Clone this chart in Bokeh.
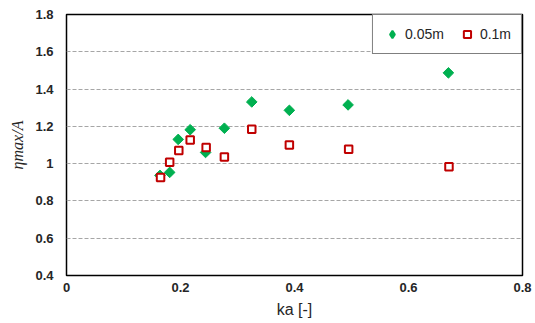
import math
from bokeh.plotting import figure
from bokeh.models import Range1d, FixedTicker, Legend, LegendItem
from bokeh.embed import file_html
from bokeh.resources import INLINE

# data
ka_005 = [0.164, 0.181, 0.196, 0.217, 0.244, 0.277, 0.325, 0.391, 0.494, 0.670]
eta_005 = [0.937, 0.953, 1.130, 1.182, 1.060, 1.190, 1.331, 1.286, 1.315, 1.487]
ka_01 = [0.165, 0.181, 0.197, 0.217, 0.245, 0.277, 0.325, 0.391, 0.495, 0.671]
eta_01 = [0.926, 1.007, 1.071, 1.127, 1.087, 1.036, 1.184, 1.100, 1.077, 0.984]
series_names = ["0.05m", "0.1m"]
x_ticks = [0, 0.2, 0.4, 0.6, 0.8]
x_tick_labels = ["0", "0.2", "0.4", "0.6", "0.8"]
y_ticks = [0.4, 0.6, 0.8, 1.0, 1.2, 1.4, 1.6, 1.8]
y_tick_labels = ["0.4", "0.6", "0.8", "1", "1.2", "1.4", "1.6", "1.8"]

GREEN = "#00B050"
RED = "#C00000"

p = figure(width=535, height=323, output_backend="svg", toolbar_location=None,
           x_range=Range1d(0, 0.8), y_range=Range1d(0.4, 1.8),
           min_border_left=66, min_border_right=13, min_border_top=14, min_border_bottom=48)

p.outline_line_color = "black"
p.outline_line_width = 1.5
p.background_fill_color = "white"
p.border_fill_color = "white"

p.xgrid.visible = False
p.ygrid.grid_line_color = "#a6a6a6"
p.ygrid.grid_line_dash = "4 2"
p.ygrid.grid_line_width = 1

for ax in (p.xaxis[0], p.yaxis[0]):
    ax.axis_line_color = None
    ax.major_tick_line_color = None
    ax.minor_tick_line_color = None
    ax.major_tick_out = 0
    ax.major_tick_in = 0
    ax.minor_tick_out = 0
    ax.minor_tick_in = 0
    ax.major_label_text_font = "Liberation Sans"
    ax.major_label_text_font_style = "bold"
    ax.major_label_text_font_size = "13px"
    ax.major_label_text_color = "#262626"
    ax.axis_label_text_color = "#262626"

p.xaxis.ticker = FixedTicker(ticks=x_ticks)
p.xaxis.major_label_overrides = {t: l for t, l in zip(x_ticks, x_tick_labels)}
p.yaxis.ticker = FixedTicker(ticks=y_ticks)
p.yaxis.major_label_overrides = {t: l for t, l in zip(y_ticks, y_tick_labels)}
p.xaxis.major_label_standoff = 7
p.yaxis.major_label_standoff = 13

p.xaxis.axis_label = "ka [-]"
p.xaxis.axis_label_text_font = "Liberation Sans"
p.xaxis.axis_label_text_font_style = "normal"
p.xaxis.axis_label_text_font_size = "16px"
p.xaxis.axis_label_standoff = 6

p.yaxis.axis_label = "ηmax/A"
p.yaxis.axis_label_text_font = "Liberation Serif"
p.yaxis.axis_label_text_font_style = "italic"
p.yaxis.axis_label_text_font_size = "16px"
p.yaxis.axis_label_standoff = 6

r1 = p.scatter(ka_005, eta_005, marker="square", angle=math.pi / 4, size=7.5,
               fill_color=GREEN, line_color=GREEN)
r2 = p.scatter(ka_01, eta_01, marker="square", size=7.5, fill_color="white",
               line_color=RED, line_width=2)
# legend-only diamond symbol (zero size in the plot)
r1_key = p.scatter(ka_005, eta_005, marker="diamond", size=0,
                   fill_color=GREEN, line_color=GREEN, line_width=2)

legend = Legend(items=[LegendItem(label=series_names[0], renderers=[r1_key]),
                       LegendItem(label=series_names[1], renderers=[r2])],
                location="top_right", orientation="horizontal")
legend.margin = 0
legend.padding = 10
legend.spacing = 14
legend.glyph_width = 18
legend.glyph_height = 18
legend.label_height = 18
legend.label_standoff = 4
legend.label_text_font = "Liberation Sans"
legend.label_text_font_size = "14px"
legend.label_text_color = "#262626"
legend.border_line_color = "black"
legend.border_line_width = 1.5
legend.background_fill_color = "white"
legend.background_fill_alpha = 1
p.add_layout(legend)

open("out.html", "w").write(file_html(p, INLINE))
